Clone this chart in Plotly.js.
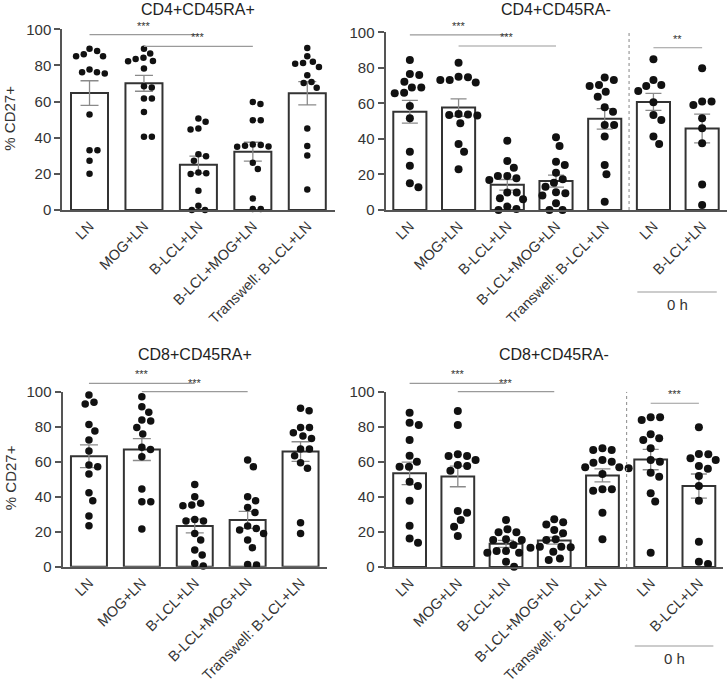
<!DOCTYPE html>
<html>
<head>
<meta charset="utf-8">
<script src="https://cdn.plot.ly/plotly-3.0.1.min.js"></script>
<style>
  html, body { margin: 0; padding: 0; background: #fff; }
  #chart { width: 727px; height: 690px; }
</style>
</head>
<body>
<div id="chart"></div>
<script>
// ---------------- DATA ----------------
const catsMain = ["LN", "MOG+LN", "B-LCL+LN", "B-LCL+MOG+LN", "Transwell: B-LCL+LN"];
const catsZeroH = ["LN", "B-LCL+LN"];
const zeroHLabel = "0 h";
const yAxisTitle = "% CD27+";
const panelTitles = ["CD4+CD45RA+", "CD4+CD45RA-", "CD8+CD45RA+", "CD8+CD45RA-"];
const yTicks = [0, 20, 40, 60, 80, 100];

// % CD27+ per donor, one array per group
const cd4RApos = [
  [88.0, 85.1, 85.1, 86.2, 89.2, 76.2, 75.5, 76.2, 77.7, 52.9, 33.1, 33.1, 27.3, 20.1],
  [89.3, 84.3, 82.5, 83.6, 82.3, 86.6, 78.3, 68.5, 67.8, 61.7, 61.7, 54.3, 40.5, 40.5],
  [50.6, 48.8, 44.6, 45.1, 29.8, 30.9, 27.3, 20.8, 19.9, 20.3, 10.7, 2.4, 0, 0],
  [59.8, 58.6, 49.7, 49.7, 36.0, 35.5, 35.0, 35.2, 36.2, 26.1, 22.7, 6.4, 0.5, 0.5],
  [89.7, 85.1, 81.4, 79.2, 81.0, 82.0, 74.6, 70.9, 70.3, 67.6, 45.1, 35.4, 30.2, 11.4]
];
const cd4RAneg = [
  [84.4, 76.5, 76.0, 72.2, 69.0, 66.0, 65.7, 69.0, 58.5, 51.6, 32.8, 24.9, 12.8, 15.0],
  [82.9, 74.7, 73.2, 71.7, 73.2, 75.0, 53.8, 53.2, 53.5, 54.0, 48.8, 37.1, 32.8, 22.9],
  [39.0, 27.6, 23.8, 19.1, 16.9, 17.8, 19.1, 9.9, 9.9, 6.6, 6.0, 1.9, 0, 0.6],
  [40.9, 36.0, 27.2, 25.3, 21.0, 17.3, 15.4, 13.1, 9.4, 8.1, 10.0, 3.8, 0, 0],
  [74.5, 70.3, 69.8, 73.2, 66.6, 63.8, 57.8, 55.3, 47.8, 47.8, 41.3, 25.3, 20.1, 4.7],
  [84.8, 69.8, 73.2, 70.3, 67.0, 60.6, 53.5, 50.6, 37.1, 41.3],
  [79.7, 61.0, 61.0, 59.1, 51.6, 46.0, 37.5, 14.4, 2.8]
];
const cd8RApos = [
  [98.1, 93.0, 93.9, 81.3, 77.5, 72.4, 66.1, 58.1, 57.1, 53.0, 42.3, 37.7, 29.0, 23.4],
  [97.1, 91.4, 88.2, 83.8, 83.2, 79.6, 75.8, 67.0, 68.2, 62.9, 44.4, 37.1, 37.1, 21.5],
  [47.0, 40.0, 36.2, 34.9, 35.2, 26.1, 26.1, 27.0, 19.0, 15.2, 9.5, 6.7, 0.4, 1.9],
  [61.0, 57.1, 40.0, 37.7, 33.9, 31.0, 23.2, 21.9, 21.0, 19.0, 15.2, 10.9, 1.0, 1.3],
  [90.5, 89.1, 79.6, 79.6, 76.6, 73.3, 74.7, 67.2, 67.2, 63.4, 59.4, 56.2, 25.1, 19.0]
];
const cd8RAneg = [
  [88.0, 82.3, 81.0, 72.4, 63.5, 60.1, 57.2, 57.2, 48.7, 46.2, 37.8, 23.6, 16.3, 13.9],
  [89.0, 81.0, 63.3, 63.3, 64.3, 58.2, 57.6, 61.0, 54.9, 31.0, 26.8, 31.9, 23.0, 17.7],
  [26.8, 21.5, 19.8, 19.8, 15.4, 15.4, 15.8, 12.5, 9.1, 8.2, 8.2, 9.1, 3.0, 0.2],
  [27.2, 25.5, 24.3, 21.1, 19.2, 15.8, 15.4, 11.5, 11.0, 11.5, 11.2, 8.7, 4.9, 4.0],
  [66.7, 67.7, 66.7, 60.1, 61.0, 59.5, 56.9, 56.3, 56.9, 53.0, 44.3, 43.5, 44.3, 31.0, 15.8],
  [85.4, 83.8, 85.4, 75.7, 73.4, 72.4, 67.7, 61.0, 60.0, 53.8, 51.5, 42.0, 37.3, 8.2],
  [79.7, 64.4, 64.3, 62.0, 61.0, 57.6, 56.0, 51.9, 46.2, 37.8, 14.4, 1.7, 3.0]
];

// significance brackets: [fromGroup, toGroup, level (%), label]
const sigCD4pos = [[0, 2, 97.1, "***"], [1, 3, 90.6, "***"]];
const sigCD4neg = [[0, 2, 98.6, "***"], [1, 3, 92.3, "***"], [5, 6, 91.3, "**"]];
const sigCD8pos = [[0, 2, 104.8, "***"], [1, 3, 100, "***"]];
const sigCD8neg = [[0, 2, 104.8, "***"], [1, 3, 100, "***"], [5, 6, 93.4, "***"]];

// ---------------- LAYOUT / STYLE ----------------
const W = 727, H = 690;
const FONT = "Liberation Sans, Arial, Helvetica, sans-serif";
const TXT = "#333333";
const AXC = "#555555";

const panels = [
  { data: cd4RApos, sig: sigCD4pos, title: panelTitles[0], px: [62.3, 334.5], py: [29.3, 210], ms: 6.5, ytitle: true, titleY: 10, cap: 9 },
  { data: cd4RAneg, sig: sigCD4neg, title: panelTitles[1], px: [385.5, 726.5], py: [32.3, 210], ms: 8, zeroH: true, titleY: 10, cap: 8, lineY: 292, textY: 304 },
  { data: cd8RApos, sig: sigCD8pos, title: panelTitles[2], px: [62.5, 327], py: [391.7, 566.7], ms: 7.5, ytitle: true, titleY: 355, cap: 9 },
  { data: cd8RAneg, sig: sigCD8neg, title: panelTitles[3], px: [385.5, 723], py: [391.7, 567], ms: 8, zeroH: true, titleY: 355, cap: 8, lineY: 646, textY: 658 }
];

function mean(a) { return a.reduce((s, v) => s + v, 0) / a.length; }
function sem(a) {
  const m = mean(a);
  const v = a.reduce((s, x) => s + (x - m) * (x - m), 0) / (a.length - 1);
  return Math.sqrt(v / a.length);
}

// beeswarm: horizontal offsets (in px) so that dots do not overlap
function swarm(values, pxPerUnit, d) {
  const order = values.map((v, i) => i).sort((a, b) => values[b] - values[a]);
  const placed = [];
  const off = new Array(values.length).fill(0);
  for (const i of order) {
    const y = values[i] * pxPerUnit;
    const cands = [0];
    for (const p of placed) {
      const dy = Math.abs(p.y - y);
      if (dy < d) {
        const dx = Math.sqrt(d * d - dy * dy);
        cands.push(p.x + dx + 0.01, p.x - dx - 0.01);
      }
    }
    cands.sort((a, b) => Math.abs(a) - Math.abs(b));
    let chosen = 0;
    for (const c of cands) {
      if (placed.every(p => (p.x - c) * (p.x - c) + (p.y - y) * (p.y - y) >= d * d - 0.05)) { chosen = c; break; }
    }
    placed.push({ x: chosen, y: y });
    off[i] = chosen;
  }
  return off;
}

const traces = [];
const layout = {
  width: W, height: H,
  margin: { l: 0, r: 0, t: 0, b: 0, pad: 0 },
  paper_bgcolor: "#ffffff",
  plot_bgcolor: "rgba(0,0,0,0)",
  showlegend: false,
  font: { family: FONT, color: TXT, size: 14 },
  bargap: 0,
  shapes: [],
  annotations: []
};

panels.forEach((p, k) => {
  const id = k === 0 ? "" : String(k + 1);
  const xa = "x" + id, ya = "y" + id;
  const n = p.data.length;
  const labels = p.zeroH ? catsMain.concat(catsZeroH) : catsMain.slice();
  const idx = labels.map((_, i) => i);
  const pxPerUnit = (p.py[1] - p.py[0]) / 100;
  const pxPerCat = (p.px[1] - p.px[0]) / n;

  layout["xaxis" + id] = {
    domain: [p.px[0] / W, p.px[1] / W],
    anchor: ya,
    range: [-0.5, n - 0.5],
    tickmode: "array", tickvals: idx, ticktext: labels,
    tickangle: -45,
    ticks: "",
    tickfont: { family: FONT, size: 14.5, color: TXT },
    showline: true, linecolor: AXC, linewidth: 2,
    showgrid: false, zeroline: false, fixedrange: true
  };
  layout["yaxis" + id] = {
    domain: [1 - p.py[1] / H, 1 - p.py[0] / H],
    anchor: xa,
    range: [0, 100],
    tickmode: "array", tickvals: yTicks,
    ticks: "outside", ticklen: 6, tickwidth: 2, tickcolor: AXC,
    tickfont: { family: FONT, size: 15, color: TXT },
    showline: true, linecolor: AXC, linewidth: 2,
    showgrid: false, zeroline: false, fixedrange: true
  };

  // bars = group means with SEM
  traces.push({
    type: "bar", xaxis: xa, yaxis: ya,
    x: idx, y: p.data.map(mean), width: 0.68,
    marker: { color: "#ffffff", line: { color: "#333333", width: 2 } },
    error_y: { type: "data", array: p.data.map(sem), visible: true, color: "#8a8a8a", thickness: 1.3, width: p.cap },
    hoverinfo: "skip"
  });

  // individual donors
  const xs = [], ys = [];
  p.data.forEach((vals, g) => {
    const off = swarm(vals, pxPerUnit, p.ms + 1.4);
    vals.forEach((v, j) => { xs.push(g + off[j] / pxPerCat); ys.push(v); });
  });
  traces.push({
    type: "scatter", mode: "markers", xaxis: xa, yaxis: ya,
    x: xs, y: ys, cliponaxis: false,
    marker: { color: "#111111", size: p.ms, line: { width: 0 } },
    hoverinfo: "skip"
  });

  // significance brackets
  p.sig.forEach(s => {
    layout.shapes.push({
      type: "line", xref: xa, yref: ya + " domain",
      x0: s[0], x1: s[1], y0: s[2] / 100, y1: s[2] / 100,
      line: { color: "#9a9a9a", width: 1.2 }
    });
    layout.annotations.push({
      xref: xa, yref: ya + " domain", x: (s[0] + s[1]) / 2, y: s[2] / 100,
      text: s[3], showarrow: false, yanchor: "bottom", xanchor: "center", yshift: 1,
      font: { family: FONT, size: 11, color: "#333333" }
    });
  });

  // panel title
  layout.annotations.push({
    xref: "paper", yref: "paper",
    x: (p.px[0] + p.px[1]) / 2 / W, y: 1 - p.titleY / H,
    text: p.title, showarrow: false, xanchor: "center", yanchor: "middle",
    font: { family: FONT, size: 16, color: "#222222" }
  });

  if (p.ytitle) {
    layout.annotations.push({
      xref: "paper", yref: "paper",
      x: 10 / W, y: 1 - ((p.py[0] + p.py[1]) / 2 - 1) / H,
      text: yAxisTitle, textangle: -90, showarrow: false,
      xanchor: "center", yanchor: "middle",
      font: { family: FONT, size: 15, color: TXT }
    });
  }

  if (p.zeroH) {
    const h = p.py[1] - p.py[0];
    // dotted separator between culture groups and 0 h groups
    layout.shapes.push({
      type: "line", xref: xa, yref: ya,
      x0: catsMain.length - 0.5, x1: catsMain.length - 0.5, y0: 0, y1: 100,
      line: { color: "#999999", width: 1.2, dash: "dot" }
    });
    // "0 h" bracket under the two last groups
    layout.shapes.push({
      type: "line", xref: xa, yref: ya + " domain",
      x0: catsMain.length - 0.33, x1: n - 0.7,
      y0: -(p.lineY - p.py[1]) / h, y1: -(p.lineY - p.py[1]) / h,
      line: { color: "#9a9a9a", width: 1.2 }
    });
    layout.annotations.push({
      xref: xa, yref: ya + " domain",
      x: catsMain.length + 0.5, y: -(p.textY - p.py[1]) / h,
      text: zeroHLabel, showarrow: false, xanchor: "center", yanchor: "middle",
      font: { family: FONT, size: 15, color: TXT }
    });
  }
});

Plotly.newPlot("chart", traces, layout, { staticPlot: true, displayModeBar: false });
</script>
</body>
</html>
